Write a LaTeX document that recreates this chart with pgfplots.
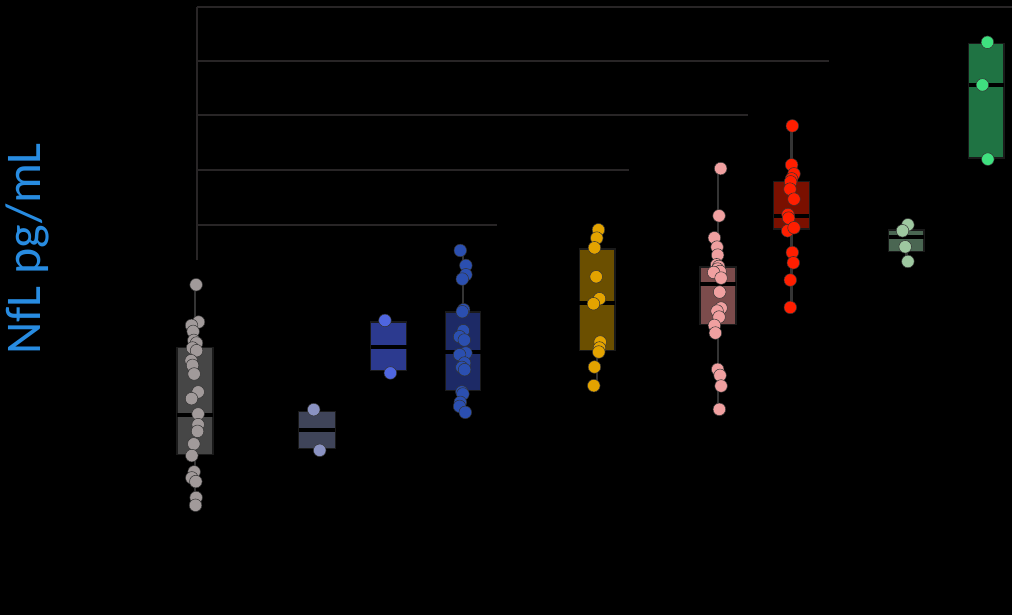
\documentclass[border=0pt]{standalone}
\usepackage{pgfplots}
\pgfplotsset{compat=1.18}
\usepgfplotslibrary{statistics}
\usepackage{fontspec}
\newfontfamily\labelfont{Carlito}
\definecolor{labelblue}{RGB}{40,140,225}
\definecolor{brk}{RGB}{40,37,38}
\definecolor{edge}{RGB}{26,26,26}
\definecolor{wh}{RGB}{52,52,52}
\definecolor{b1}{RGB}{70,70,70}\definecolor{p1}{RGB}{161,154,154}
\definecolor{b2}{RGB}{63,68,89}\definecolor{p2}{RGB}{138,146,194}
\definecolor{b3}{RGB}{44,58,143}\definecolor{p3}{RGB}{79,102,224}
\definecolor{b4}{RGB}{29,42,102}\definecolor{p4}{RGB}{43,79,176}
\definecolor{b5}{RGB}{107,79,0}\definecolor{p5}{RGB}{227,163,0}
\definecolor{b6}{RGB}{124,76,76}\definecolor{p6}{RGB}{240,160,160}
\definecolor{b7}{RGB}{122,16,0}\definecolor{p7}{RGB}{255,30,0}
\definecolor{b8}{RGB}{74,102,82}\definecolor{p8}{RGB}{158,200,160}
\definecolor{b9}{RGB}{31,115,67}\definecolor{p9}{RGB}{63,224,127}
\pgfplotsset{
  bx/.style={boxplot/draw direction=y,
             boxplot/every box/.style={draw=edge, line width=1.5pt, fill=#1},
             boxplot/every whisker/.style={draw=wh, line width=2.2pt},
             boxplot/every median/.style={draw=black, line width=4pt}},
  pts/.style={only marks, mark=*, mark size=6.3pt, mark options={fill=#1, draw=black!80, line width=0.5pt}},
}
\begin{document}
\begin{tikzpicture}
\begin{axis}[width=1013pt, height=616pt, scale only axis,
  xmin=0, xmax=1013, ymin=0, ymax=616,
  axis line style={draw=none}, ticks=none, clip=false,
  axis background/.style={fill=black},
  ylabel={\labelfont\fontsize{50}{60}\selectfont NfL pg/mL},
  every axis y label/.style={at={(rel axis cs:0.0267,0.5958)}, rotate=90, anchor=center, color=labelblue},
]
% significance brackets
\addplot[brk, line width=1.8pt] coordinates {(197,356) (197,609)};
\addplot[brk, line width=1.8pt] coordinates {(197,609) (1013,609)};
\addplot[brk, line width=1.8pt] coordinates {(197,555) (830,555)};
\addplot[brk, line width=1.8pt] coordinates {(197,501) (749,501)};
\addplot[brk, line width=1.8pt] coordinates {(197,446) (630,446)};
\addplot[brk, line width=1.8pt] coordinates {(197,391) (497,391)};
% boxes
\addplot[bx=b1, boxplot prepared={draw position=195, box extend=36, lower whisker=110.3, lower quartile=161, median=200.3, upper quartile=268.3, upper whisker=331, whisker extend=0}] coordinates {};
\addplot[bx=b2, boxplot prepared={draw position=317.3, box extend=36.7, lower whisker=167, lower quartile=167, median=185.3, upper quartile=204.3, upper whisker=204.3, whisker extend=0}] coordinates {};
\addplot[bx=b3, boxplot prepared={draw position=389, box extend=36, lower whisker=245, lower quartile=245, median=269, upper quartile=293.7, upper whisker=293.7, whisker extend=0}] coordinates {};
\addplot[bx=b4, boxplot prepared={draw position=463.3, box extend=35.3, lower whisker=203.3, lower quartile=225.3, median=263.3, upper quartile=303.7, upper whisker=365.3, whisker extend=0}] coordinates {};
\addplot[bx=b5, boxplot prepared={draw position=597.8, box extend=35.7, lower whisker=230, lower quartile=265, median=312.7, upper quartile=366.7, upper whisker=386, whisker extend=0}] coordinates {};
\addplot[bx=b6, boxplot prepared={draw position=718.7, box extend=36, lower whisker=206.3, lower quartile=291, median=332, upper quartile=349, upper whisker=447.3, whisker extend=0}] coordinates {};
\addplot[bx=b7, boxplot prepared={draw position=792.2, box extend=35.7, lower whisker=308.3, lower quartile=387, median=400, upper quartile=434.3, upper whisker=490, whisker extend=0}] coordinates {};
\addplot[bx=b8, boxplot prepared={draw position=907.2, box extend=35.7, lower whisker=354.3, lower quartile=364.3, median=378.3, upper quartile=386, upper whisker=391, whisker extend=0}] coordinates {};
\addplot[bx=b9, boxplot prepared={draw position=987.2, box extend=35.7, lower whisker=457.7, lower quartile=457.7, median=531.3, upper quartile=572.3, upper whisker=572.3, whisker extend=0}] coordinates {};
% points
\addplot[pts=p1] coordinates {(196.3,331)(198.7,293.7)(191.7,290.3)(193.3,284.3)(194,275.3)(196.7,272.7)(192.7,267.7)(196.7,265)(191.3,255)(192.7,250.3)(194.3,241.7)(198.3,223.7)(191.7,217)(198.3,201.7)(198.3,191)(197.7,184.3)(194,171.7)(192,160)(194.3,143.7)(192,137.7)(196,134)(196.3,118)(195.7,110.3)};
\addplot[pts=p2] coordinates {(314,206)(320,165.3)};
\addplot[pts=p3] coordinates {(385.3,295.3)(390.7,242.7)};
\addplot[pts=p4] coordinates {(460.7,365.3)(466.3,350.3)(466.3,341)(462.7,336.7)(464,306)(462.7,304)(463.7,285)(460,279)(464.7,275.7)(466.3,262.7)(460,261)(465,252.7)(462.3,248.3)(465,246)(462.3,223.7)(463.3,221.7)(460.7,213.3)(460,209.3)(465.7,203.3)};
\addplot[pts=p5] coordinates {(599,386)(597.3,377.7)(595,368)(596.7,339)(600,317)(594,312)(600.7,273.7)(600,267.7)(599.3,263.7)(595,248.7)(594.3,230)};
\addplot[pts=p6] coordinates {(721.3,447.3)(719.7,400)(715,378)(717.7,368.7)(718.3,360.7)(717.3,351)(719.3,349.3)(718.3,346.7)(720.7,344.3)(714.3,343.3)(721.7,337.7)(720.3,323.7)(721.7,307.7)(717.7,304.7)(719.7,298.7)(715,290.3)(716,282.7)(718.3,246.3)(720.7,240.3)(721.7,229.7)(720,206.3)};
\addplot[pts=p7] coordinates {(793,490)(792.3,451)(794.7,442)(792.3,437)(791.3,434)(790.7,426.7)(794.7,416.7)(788.7,401.3)(789.3,397.7)(788.3,385)(794.7,388)(793,363.3)(794,353)(791,335.7)(791,308.3)};
\addplot[pts=p8] coordinates {(908.7,391)(903.3,385)(906,369)(908.7,354.3)};
\addplot[pts=p9] coordinates {(988.3,573.7)(983.3,531)(988.7,456.7)};
\end{axis}
\end{tikzpicture}
\end{document}
